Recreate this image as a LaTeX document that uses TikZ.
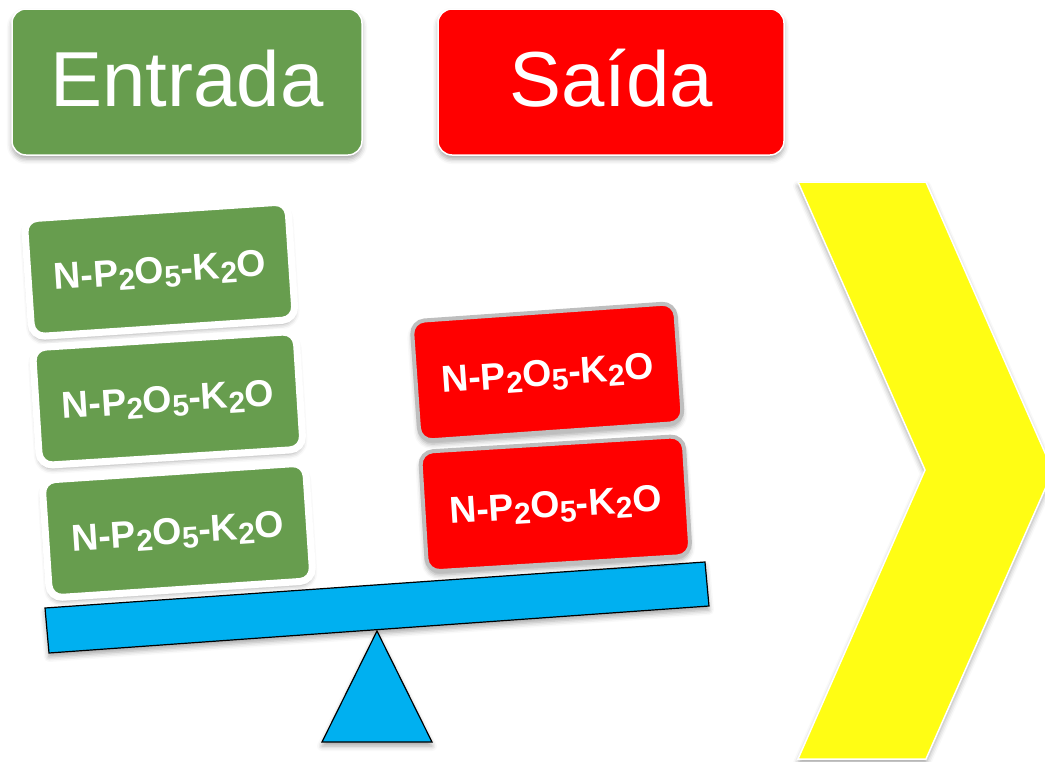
\documentclass[tikz,border=0pt]{standalone}
\usepackage{fontspec}
\setmainfont{Liberation Sans}
\usetikzlibrary{shadows.blur}

\definecolor{leafgreen}{RGB}{103,157,78}
\definecolor{beamblue}{RGB}{0,176,240}
\definecolor{chevyellow}{RGB}{255,253,20}
\definecolor{rimgray}{RGB}{190,190,190}

% lowered, reduced digit for the nutrient formulas
\newcommand\lowdigit[1]{\raisebox{-5pt}{\fontsize{30}{30}\selectfont #1}}
\newcommand\npk{N-P\lowdigit{2}O\lowdigit{5}-K\lowdigit{2}O}

\tikzset{
  soft shadow/.style={blur shadow={shadow xshift=0pt, shadow yshift=-4pt,
      shadow blur radius=5pt, shadow opacity=35}},
  headbox/.style={draw=white, line width=1.5pt, rounded corners=14pt,
      text=white, font=\fontsize{78}{78}\selectfont, inner sep=0pt,
      minimum height=146pt, text height=56pt, text depth=8pt, soft shadow},
  nutrient/.style={rounded corners=13pt, text=white, inner sep=0pt,
      font=\bfseries\fontsize{37.5}{37.5}\selectfont,
      text height=27pt, text depth=0pt, soft shadow},
  inbox/.style={nutrient, fill=leafgreen, draw=white, line width=7pt,
      minimum width=264pt, minimum height=118pt},
  outbox/.style={nutrient, fill=red, draw=rimgray, line width=4pt,
      minimum width=264pt, minimum height=120pt},
  blueshape/.style={fill=beamblue, draw=black, line width=1.2pt,
      line join=miter, soft shadow},
}

\begin{document}
\begin{tikzpicture}[x=1pt, y=-1pt]
\useasboundingbox (0,0) rectangle (1045,761);

% headings
\node[headbox, fill=leafgreen, minimum width=350pt] (entrada) at (187,82) {Entrada};
\node[headbox, fill=red, minimum width=346pt] (saida) at (611,82) {Saída};

% balance: beam and pivot
\draw[blueshape] (45,608) -- (705,562) -- (709,606) -- (49,653) -- cycle;
\draw[blueshape] (377,631) -- (432,742) -- (322,742) -- cycle;

% input stack (left pan)
\node[inbox, rotate=3.8] (in1) at (159.8,269.3) {\npk};
\node[inbox, rotate=3.6] (in2) at (167.8,398.5) {\npk};
\node[inbox, rotate=3.8] (in3) at (177.5,530.5) {\npk};

% output stack (right pan)
\node[outbox, rotate=4.0] (out1) at (547.3,372.0) {\npk};
\node[outbox, rotate=3.5] (out2) at (555.3,503.8) {\npk};

% chevron at the right edge
\begin{scope}
  \clip (0,0) rectangle (1045,761);
  \draw[fill=chevyellow, draw=white, line width=1.5pt, line join=miter, soft shadow]
    (798,182) -- (926,182) -- (1053,471) -- (926,759) -- (798,759) -- (925,470) -- cycle;
\end{scope}
\end{tikzpicture}
\end{document}
